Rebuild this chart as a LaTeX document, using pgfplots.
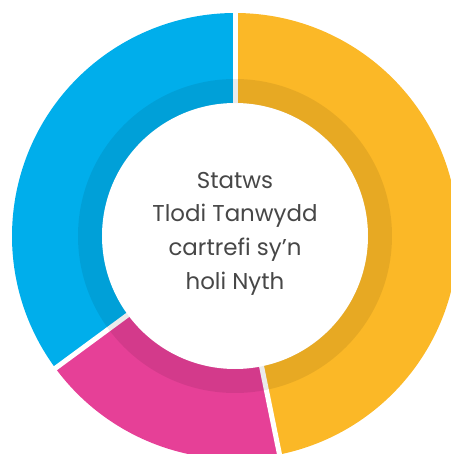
\documentclass[border=0pt]{standalone}
\usepackage{pgfplots}
\pgfplotsset{compat=1.18}
\usepackage{pgfplotstable}
\usepackage{fontspec}
\setmainfont{Poppins}

\definecolor{cyellow}{HTML}{FBB827}
\definecolor{cpink}{HTML}{E64097}
\definecolor{cblue}{HTML}{00AEEB}
\definecolor{ctext}{HTML}{474747}

% share of each segment, clockwise from 12 o'clock
\pgfplotstableread[col sep=comma]{
label,value,colour
yellow,46.8,cyellow
pink,18.1,cpink
blue,35.1,cblue
}\donutdata

\begin{document}
\begin{tikzpicture}
\useasboundingbox (-235bp,-218bp) rectangle (216bp,236bp);
\clip (-235bp,-218bp) rectangle (216bp,236bp);
\begin{axis}[
    at={(0,0)}, anchor=origin,
    scale only axis,
    width=446bp, height=446bp,
    xmin=-1, xmax=1, ymin=-1, ymax=1,
    hide axis,
]
\pgfplotsextra{
    \pgfplotstablegetrowsof{\donutdata}
    \pgfmathtruncatemacro\nrows{\pgfplotsretval-1}
    \xdef\startang{90}
    \foreach \i in {0,...,\nrows} {
        \pgfplotstablegetelem{\i}{value}\of{\donutdata}\let\val\pgfplotsretval
        \pgfplotstablegetelem{\i}{colour}\of{\donutdata}\let\col\pgfplotsretval
        \pgfmathsetmacro\endang{\startang-3.6*\val}
        \fill[\col] (axis cs:0,0) -- ++(\startang:223bp)
            arc[start angle=\startang, end angle=\endang, radius=223bp] -- cycle;
        \xdef\startang{\endang}
    }
    % white gaps between segments
    \xdef\startang{90}
    \foreach \i in {0,...,\nrows} {
        \pgfplotstablegetelem{\i}{value}\of{\donutdata}\let\val\pgfplotsretval
        \draw[white, line width=5bp] (axis cs:0,0) -- ++(\startang:240bp);
        \pgfmathsetmacro\endang{\startang-3.6*\val}
        \xdef\startang{\endang}
    }
    \fill[white] (axis cs:0,0) circle[radius=133bp];
    \fill[black, opacity=0.08, even odd rule]
        (axis cs:0,0) circle[radius=157bp] (axis cs:0,0) circle[radius=133bp];
    \node[align=center, text=ctext, font=\fontsize{23}{34}\selectfont]
        at (axis cs:0,0.01) {Statws\\Tlodi Tanwydd\\cartrefi sy’n\\holi Nyth};
}
\end{axis}
\end{tikzpicture}
\end{document}
